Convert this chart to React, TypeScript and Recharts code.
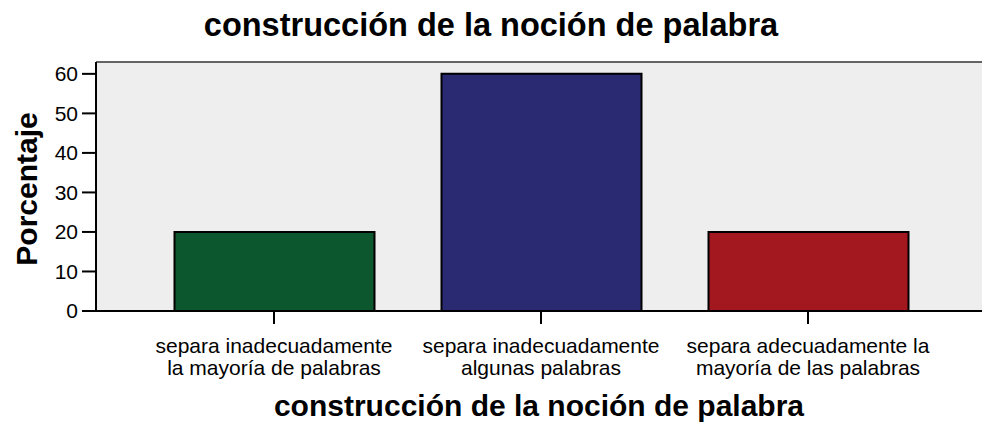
import React from 'react';
import { BarChart, Bar, XAxis, YAxis, CartesianGrid, Cell, ReferenceLine } from 'recharts';

const titleText = 'construcción de la noción de palabra';
const xAxisTitle = 'construcción de la noción de palabra';
const yAxisTitle = 'Porcentaje';

const categoryLine1 = ['separa inadecuadamente', 'separa inadecuadamente', 'separa adecuadamente la'];
const categoryLine2 = ['la mayoría de palabras', 'algunas palabras', 'mayoría de las palabras'];
const values = [20, 60, 20];
const barColors = ['#0c572e', '#292a72', '#a3181e'];
const yTicks = [0, 10, 20, 30, 40, 50, 60];

const data = values.map((v, i) => ({ name: String(i), value: v }));

const FONT = 'Liberation Sans, Arial, sans-serif';

const CategoryTick = (props: any) => {
  const { x, y, payload } = props;
  const i = Number(payload.value);
  return (
    <text x={x} y={y} textAnchor="middle" fontFamily={FONT} fontSize={21} fill="#000">
      <tspan x={x} dy={27}>{categoryLine1[i]}</tspan>
      <tspan x={x} dy={22}>{categoryLine2[i]}</tspan>
    </text>
  );
};

export default function App() {
  return (
    <div style={{ position: 'absolute', left: 0, top: 0, width: 982, height: 424, background: '#fff', fontFamily: FONT }}>
      <div style={{ position: 'absolute', left: 0, top: 6, width: 982, textAlign: 'center', fontSize: 32.5, fontWeight: 'bold', color: '#000', lineHeight: '38px' }}>
        {titleText}
      </div>
      <BarChart width={982} height={424} data={data} margin={{ top: 62, right: 0, bottom: 53, left: 0 }}>
        <CartesianGrid fill="#eeeeee" stroke="none" horizontal={false} vertical={false} />
        <ReferenceLine y={63} stroke="#333" strokeWidth={1.5} ifOverflow="extendDomain" />
        <XAxis
          dataKey="name"
          height={60}
          tick={<CategoryTick />}
          tickSize={13}
          tickLine={{ stroke: '#000', strokeWidth: 2 }}
          axisLine={{ stroke: '#000', strokeWidth: 2 }}
          padding={{ left: 44.5, right: 40.5 }}
          interval={0}
        />
        <YAxis
          width={96}
          domain={[0, 63]}
          ticks={yTicks}
          tickSize={14}
          tickMargin={4}
          tick={{ fill: '#000', fontSize: 21, fontFamily: FONT }}
          tickLine={{ stroke: '#000', strokeWidth: 2 }}
          axisLine={{ stroke: '#000', strokeWidth: 2 }}
          allowDataOverflow
        />
        <Bar dataKey="value" barSize={200} stroke="#000" strokeWidth={2} isAnimationActive={false}>
          {data.map((d, i) => (
            <Cell key={i} fill={barColors[i]} />
          ))}
        </Bar>
      </BarChart>
      <div style={{ position: 'absolute', left: 96, top: 389, width: 886, textAlign: 'center', fontSize: 30, fontWeight: 'bold', color: '#000', lineHeight: '34px' }}>
        {xAxisTitle}
      </div>
      <div
        style={{
          position: 'absolute',
          left: 27,
          top: 189,
          transform: 'translate(-50%, -50%) rotate(-90deg)',
          fontSize: 30,
          fontWeight: 'bold',
          color: '#000',
          whiteSpace: 'nowrap',
          lineHeight: '34px',
        }}
      >
        {yAxisTitle}
      </div>
    </div>
  );
}
